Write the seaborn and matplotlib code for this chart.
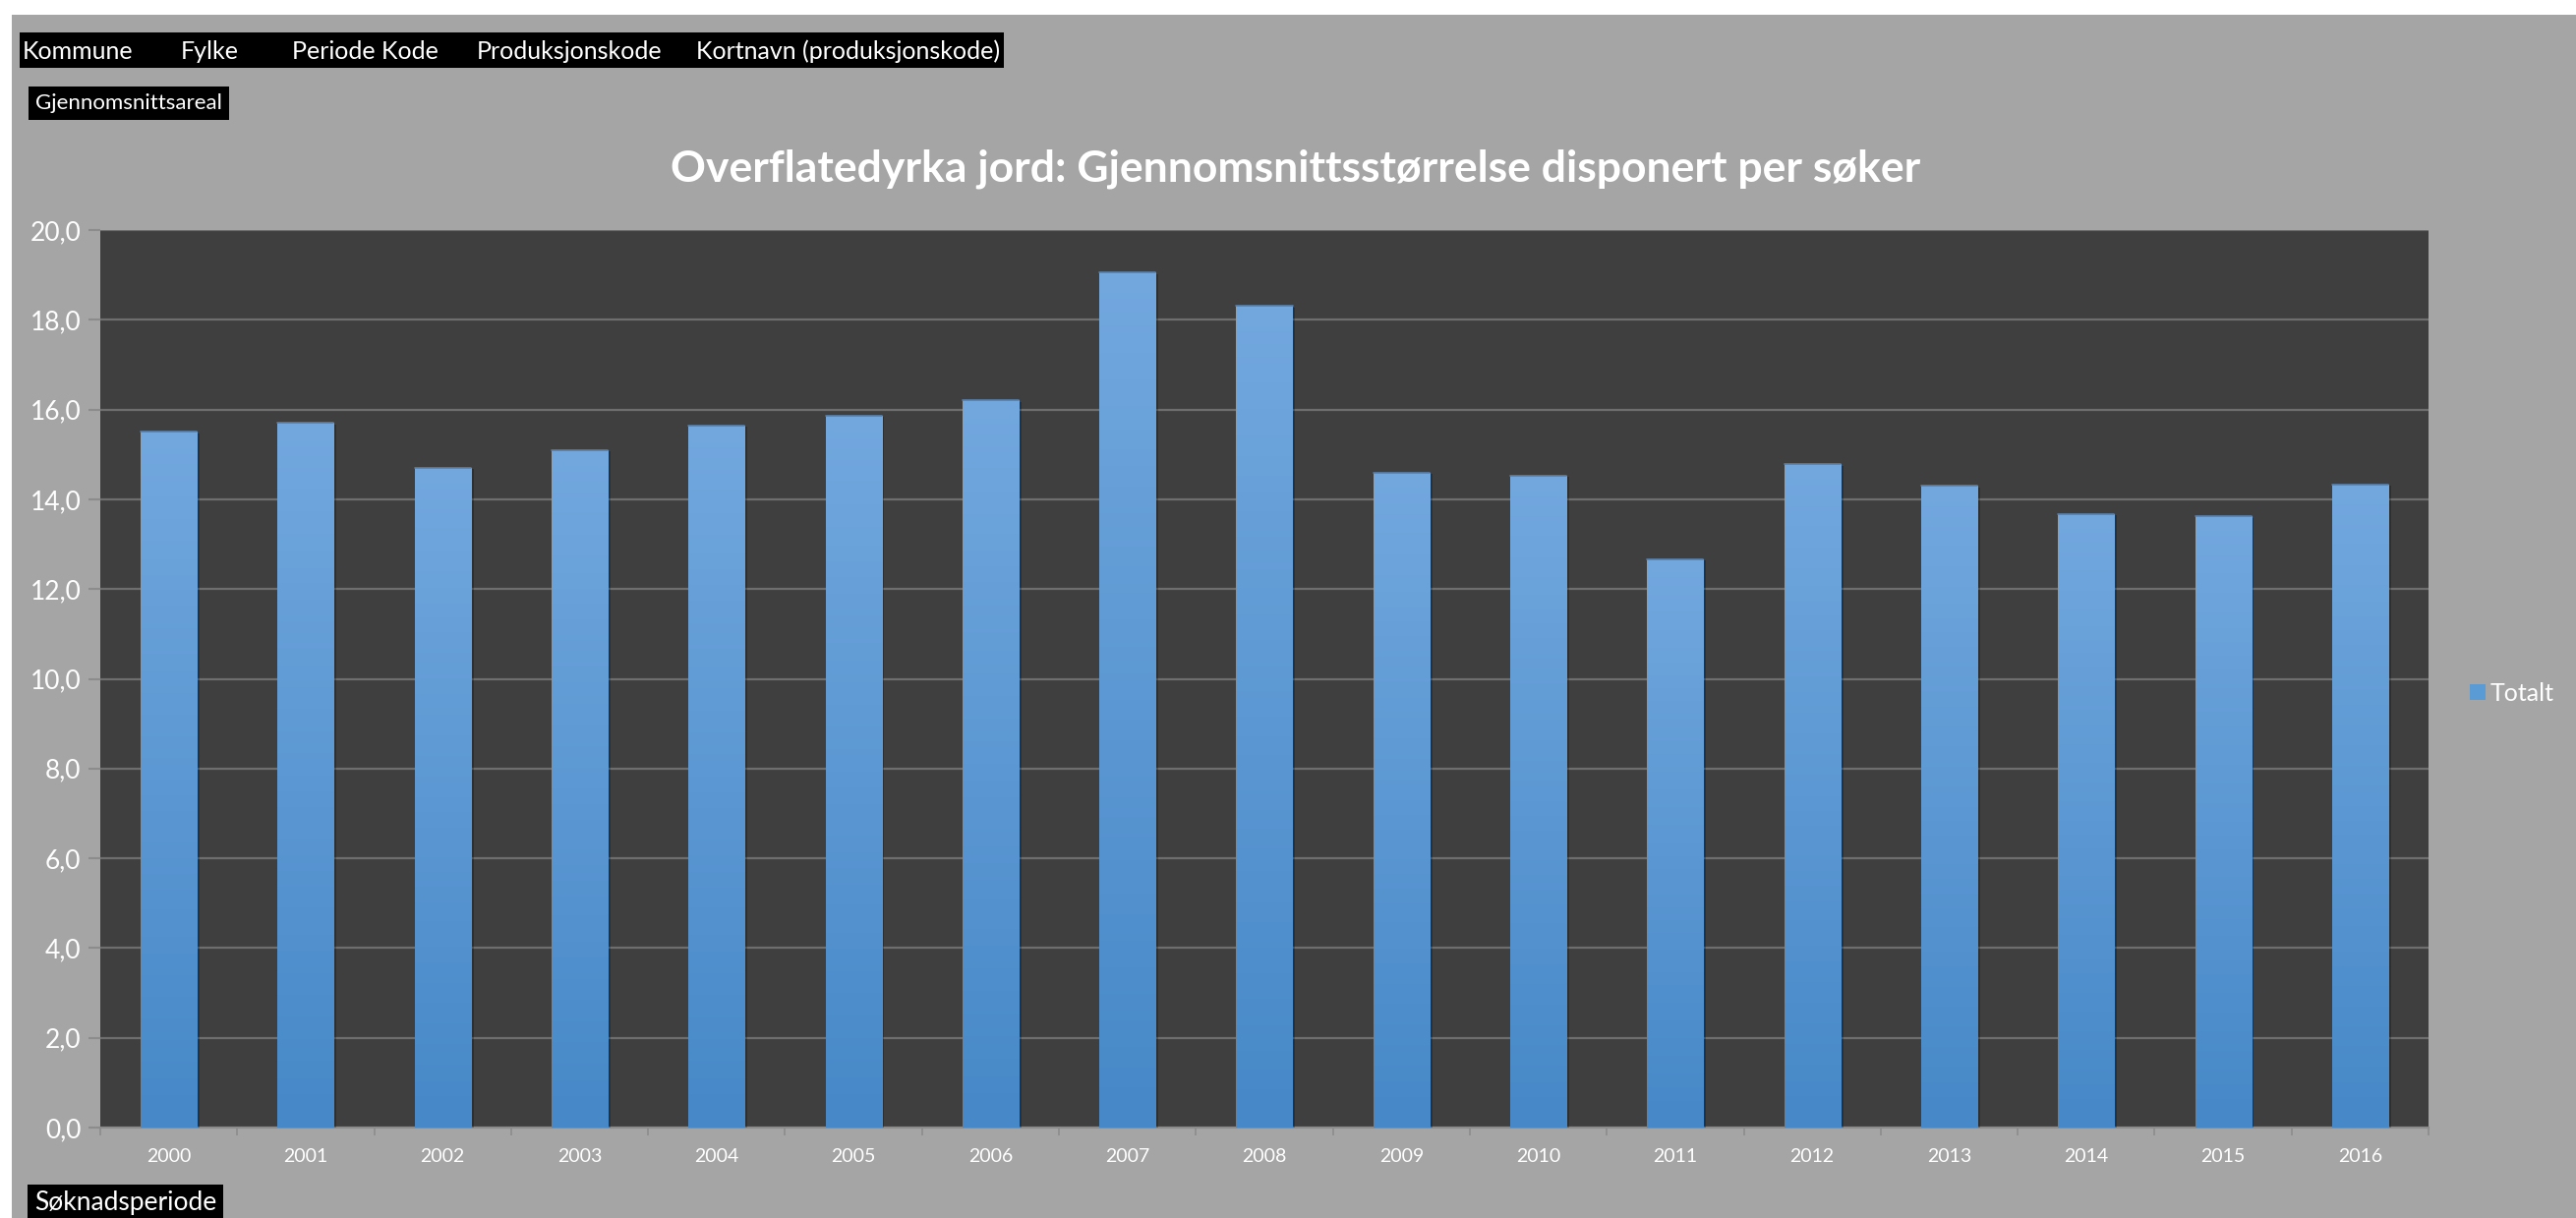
import numpy as np
import pandas as pd
import seaborn as sns
import matplotlib.pyplot as plt
from matplotlib.patches import Rectangle
from matplotlib.ticker import FuncFormatter, MultipleLocator
import matplotlib.patheffects as pe

years = [str(y) for y in range(2000, 2017)]
totalt = [15.5, 15.7, 14.7, 15.1, 15.65, 15.87, 16.2, 19.05, 18.31,
          14.59, 14.53, 12.67, 14.78, 14.3, 13.68, 13.62, 14.33]
fields = ["Kommune", "Fylke", "Periode Kode", "Produksjonskode", "Kortnavn (produksjonskode)"]
field_x = [23, 184, 297, 485, 708]
title = "Overflatedyrka jord: Gjennomsnittsstørrelse disponert per søker"

df = pd.DataFrame({"Søknadsperiode": years, "Totalt": totalt})

sns.set_style("dark")
plt.rcParams['font.family'] = ['Lato', 'DejaVu Sans']

W, H = 2620, 1239
fig = plt.figure(figsize=(W / 100, H / 100), dpi=100, facecolor="white")

# grey chart area (white strip on top/left)
fig.patches.append(Rectangle((12 / W, 0), 1, 1 - 15 / H, transform=fig.transFigure,
                             facecolor="#A5A5A5", edgecolor="none", zorder=-10))

ax = fig.add_axes([102 / W, 1 - 1147 / H, (2470 - 102) / W, (1147 - 234) / H])
ax.set_facecolor("#3F3F3F")

sns.barplot(data=df, x="Søknadsperiode", y="Totalt", color="#5B9BD5", width=0.41,
            saturation=1, linewidth=0, ax=ax, zorder=3)

# vertical gradient on each bar
grad = np.linspace(0, 1, 256).reshape(-1, 1)
cmap = sns.blend_palette(["#4688C8", "#72A8DE"], as_cmap=True)
for p in ax.patches:
    x0, y0 = p.get_x(), p.get_y()
    w, h = p.get_width(), p.get_height()
    p.set_path_effects([pe.SimplePatchShadow(offset=(2, -1), shadow_rgbFace="black", alpha=0.25),
                        pe.Normal()])
    im = ax.imshow(grad, cmap=cmap, origin="lower", aspect="auto",
                   extent=(x0, x0 + w, y0, y0 + h), zorder=4)
    im.set_clip_path(p)
    ax.plot([x0, x0 + w], [y0 + h, y0 + h], color="#5680AE", lw=1.2, zorder=5)

ax.set_xlim(-0.5, len(years) - 0.5)
ax.set_ylim(0, 20)
ax.yaxis.set_major_locator(MultipleLocator(2))
ax.yaxis.set_major_formatter(FuncFormatter(lambda v, _: f"{v:.1f}".replace(".", ",")))
ax.grid(axis="y", color="#6E6E6E", lw=1.6, zorder=1)
ax.grid(axis="x", visible=False)
ax.set_axisbelow(True)
ax.set_xlabel("")
ax.set_ylabel("")

for s in ["top", "right", "left"]:
    ax.spines[s].set_visible(False)
ax.spines["bottom"].set_color("#8C8C8C")
ax.spines["bottom"].set_linewidth(1.5)

ax.tick_params(axis="y", colors="#8C8C8C", labelcolor="white", labelsize=19,
               length=9, width=1.5, left=True, pad=5)
ax.tick_params(axis="x", which="major", length=0, labelcolor="white", labelsize=14, pad=15)
ax.set_xticks(np.arange(len(years) + 1) - 0.5, minor=True)
ax.tick_params(axis="x", which="minor", length=6, width=1.2, color="#8C8C8C", bottom=True)

fig.text(1318 / W, 1 - 172 / H, title, ha="center", va="center", fontsize=32,
         fontweight="bold", color="white")

# field buttons
fig.patches.append(Rectangle((20 / W, 1 - 69 / H), (1021 - 20) / W, 36 / H,
                             transform=fig.transFigure, facecolor="black", edgecolor="none"))
for name, fx in zip(fields, field_x):
    fig.text(fx / W, 1 - 52 / H, name, ha="left", va="center", fontsize=18, color="white")

fig.text(36 / W, 1 - 105 / H, "Gjennomsnittsareal", ha="left", va="center", fontsize=16,
         color="white", bbox=dict(facecolor="black", edgecolor="none", pad=5))
fig.text(35 / W, 1 - 1224 / H, "Søknadsperiode", ha="left", va="center", fontsize=19,
         color="white", bbox=dict(facecolor="black", edgecolor="none", pad=5))

# legend
fig.patches.append(Rectangle((2512 / W, 1 - 712 / H), 16 / W, 16 / H,
                             transform=fig.transFigure, facecolor="#5B9BD5", edgecolor="none"))
fig.text(2533 / W, 1 - 705 / H, "Totalt", ha="left", va="center", fontsize=18, color="white")

fig.savefig("out.png", dpi=100, facecolor=fig.get_facecolor())
